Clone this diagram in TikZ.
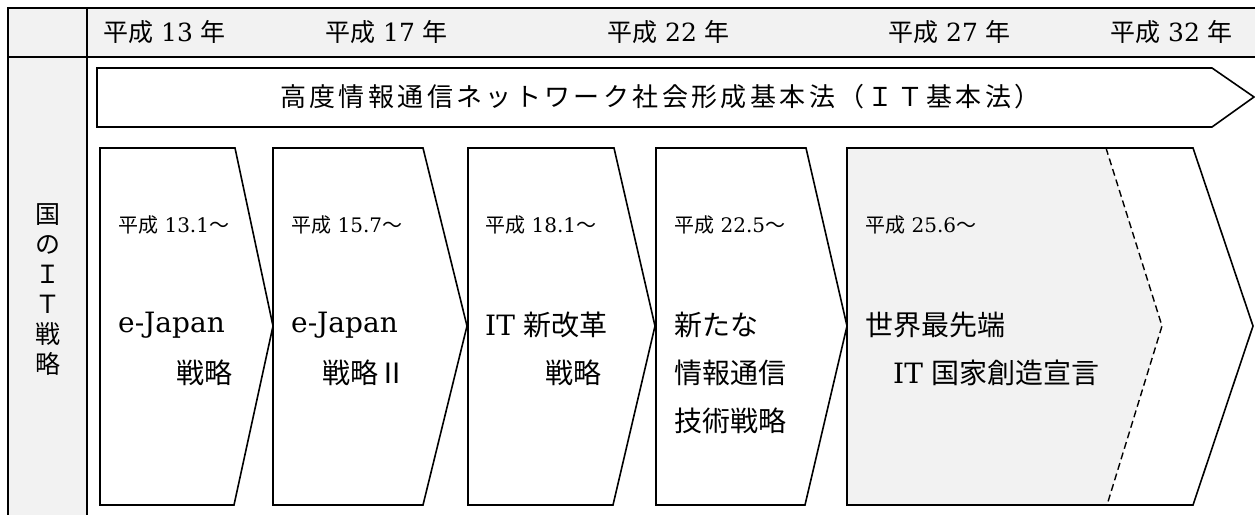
\documentclass[tikz,border=0pt]{standalone}
\usepackage{fontspec}
\setmainfont{DejaVu Serif}
\newfontfamily\cjk{Noto Sans CJK JP}
\newfontfamily\cjkwide[LetterSpace=13]{Noto Sans CJK JP}
\newcommand\jp[1]{{\cjk #1}}
\definecolor{hdrgray}{HTML}{F2F2F2}
\begin{document}
\begin{tikzpicture}[x=1pt,y=-1pt,
  tbl/.style={line width=2pt},
  chev/.style={draw=black,line width=1.6pt,line join=miter},
  hdr/.style={anchor=west,inner sep=0pt,font=\fontsize{25}{29}\selectfont},
  small/.style={anchor=west,inner sep=0pt,font=\fontsize{20}{24}\selectfont},
  big/.style={anchor=west,inner sep=0pt,font=\fontsize{28}{34}\selectfont},
  bigr/.style={big,anchor=east},
]
\useasboundingbox (0,0) rectangle (1255,514);
% table
\fill[hdrgray] (8,8) rectangle (1258,57);
\fill[hdrgray] (8,57) rectangle (87,516);
\draw[tbl] (1260,8) -- (8,8) -- (8,520);
\draw[tbl] (8,57) -- (1260,57);
\draw[tbl] (87,8) -- (87,520);
% header
\node[hdr] (h13) at (103,32) {\jp{平成} 13 \jp{年}};
\node[hdr] (h17) at (325,32) {\jp{平成} 17 \jp{年}};
\node[hdr] (h22) at (607,32) {\jp{平成} 22 \jp{年}};
\node[hdr] (h27) at (888,32) {\jp{平成} 27 \jp{年}};
\node[hdr] (h32) at (1110,32) {\jp{平成} 32 \jp{年}};
% left column
\node[align=center,inner sep=0pt,font=\cjk\fontsize{25}{30}\selectfont] (col) at (48,289) {国\\の\\Ｉ\\Ｔ\\戦\\略};
% law arrow
\draw[chev,fill=white] (97,68) -- (1212,68) -- (1254,97) -- (1212,127) -- (97,127) -- cycle;
\node[anchor=west,inner sep=0pt,font=\cjkwide\fontsize{26}{30}\selectfont] (law) at (280,97) {高度情報通信ネットワーク社会形成基本法（ＩＴ基本法）};
% chevrons
\draw[chev,fill=white] (100,148) -- (235,148) -- (273,326) -- (234,505) -- (100,505) -- cycle;
\draw[chev,fill=white] (273,148) -- (423,148) -- (467,326) -- (423,505) -- (273,505) -- cycle;
\draw[chev,fill=white] (468,148) -- (614,148) -- (655,326) -- (613,505) -- (468,505) -- cycle;
\draw[chev,fill=white] (656,148) -- (806,148) -- (847,326) -- (805,505) -- (656,505) -- cycle;
\fill[white] (847,148) -- (1193,148) -- (1253,326) -- (1193,505) -- (847,505) -- cycle;
\fill[hdrgray] (847,148) -- (1106,148) -- (1162,326) -- (1107,505) -- (847,505) -- cycle;
\draw[chev] (847,148) -- (1193,148) -- (1253,326) -- (1193,505) -- (847,505) -- cycle;
\draw[chev,line width=1.4pt,dash pattern=on 7pt off 4pt] (1106,148) -- (1162,326) -- (1107,505);
% box texts
\node[small] (d1) at (118,225) {\jp{平成} 13.1\jp{～}};
\node[big] (a1) at (118,325) {e-Japan};
\node[bigr] (b1) at (233,373) {\jp{戦略}};
\node[small] (d2) at (291,225) {\jp{平成} 15.7\jp{～}};
\node[big] (a2) at (291,325) {e-Japan};
\node[big] (b2) at (322,373) {\jp{戦略Ⅱ}};
\node[small] (d3) at (485,225) {\jp{平成} 18.1\jp{～}};
\node[big] (a3) at (485,325) {IT \jp{新改革}};
\node[big] (b3) at (545,373) {\jp{戦略}};
\node[small] (d4) at (674,225) {\jp{平成} 22.5\jp{～}};
\node[big] (a4) at (674,325) {\jp{新たな}};
\node[big] (b4) at (674,373) {\jp{情報通信}};
\node[big] (c4) at (674,421) {\jp{技術戦略}};
\node[small] (d5) at (865,225) {\jp{平成} 25.6\jp{～}};
\node[big] (a5) at (865,325) {\jp{世界最先端}};
\node[big] (b5) at (893,373) {IT \jp{国家創造宣言}};
\end{tikzpicture}
\end{document}
